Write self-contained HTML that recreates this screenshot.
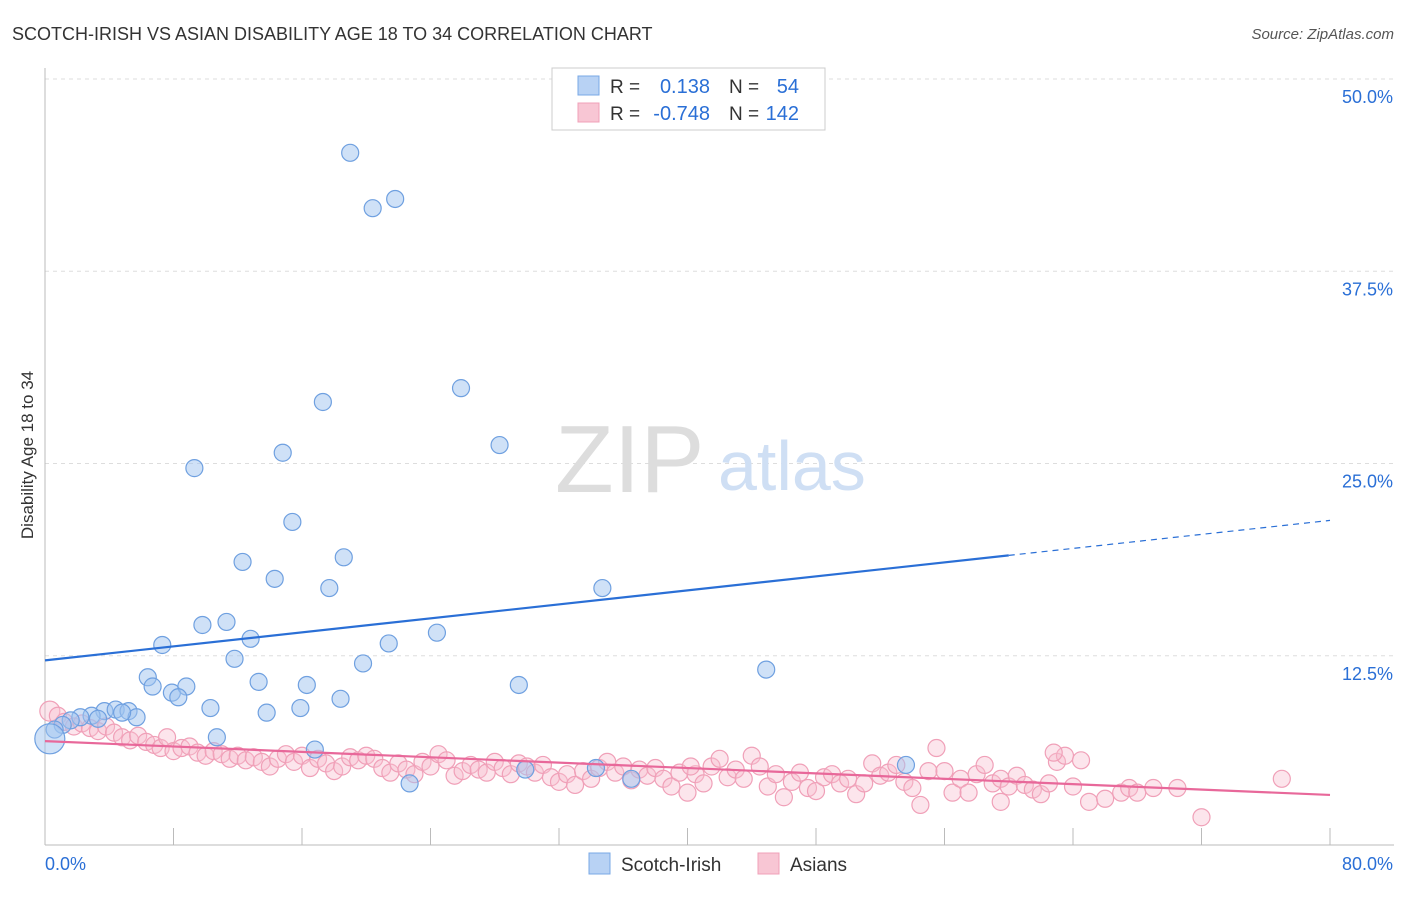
<!DOCTYPE html>
<html><head><meta charset="utf-8"><style>
body{margin:0;background:#fff;font-family:"Liberation Sans",sans-serif}
svg text{font-family:"Liberation Sans",sans-serif}
</style></head><body>
<svg id="chart" width="1406" height="892">
<text x="12" y="40" font-size="18" fill="#333">SCOTCH-IRISH VS ASIAN DISABILITY AGE 18 TO 34 CORRELATION CHART</text>
<text x="1394" y="39" font-size="15" fill="#555" font-style="italic" text-anchor="end">Source: ZipAtlas.com</text>
<text transform="translate(33,455) rotate(-90)" font-size="17" fill="#333" text-anchor="middle">Disability Age 18 to 34</text>
<g id="grid"></g>
<text x="555" y="492" font-size="96" fill="#ddd" font-family="Liberation Serif">ZIP</text>
<text x="718" y="490" font-size="70" fill="#cfdff4">atlas</text>
<g id="pts"></g>
<g id="trend"></g>
<g>
<rect x="552" y="68" width="273" height="62" fill="#fff" stroke="#ccc"/>
<rect x="578" y="76" width="21" height="19" fill="#b8d2f4" stroke="#78a8e6"/>
<rect x="578" y="103" width="21" height="19" fill="#f8c6d4" stroke="#f0a0b8"/>
<text x="610" y="93" font-size="19" fill="#333">R =</text><text x="710" y="93" font-size="20" fill="#2a6fd6" text-anchor="end">0.138</text>
<text x="729" y="93" font-size="19" fill="#333">N =</text><text x="799" y="93" font-size="20" fill="#2a6fd6" text-anchor="end">54</text>
<text x="610" y="120" font-size="19" fill="#333">R =</text><text x="710" y="120" font-size="20" fill="#2a6fd6" text-anchor="end">-0.748</text>
<text x="729" y="120" font-size="19" fill="#333">N =</text><text x="799" y="120" font-size="20" fill="#2a6fd6" text-anchor="end">142</text>
</g>
<g>
<rect x="589" y="853" width="21" height="21" fill="#b8d2f4" stroke="#78a8e6"/>
<text x="621" y="871" font-size="19" fill="#333">Scotch-Irish</text>
<rect x="758" y="853" width="21" height="21" fill="#f8c6d4" stroke="#f0a0b8"/>
<text x="790" y="871" font-size="19" fill="#333">Asians</text>
</g>
<text x="45" y="870" font-size="18" fill="#2a6fd6">0.0%</text>
<text x="1393" y="870" font-size="18" fill="#2a6fd6" text-anchor="end">80.0%</text>
</svg>
<script>
const yTicks=[12.5,25,37.5,50];
const yTickLabels=["12.5%","25.0%","37.5%","50.0%"];
const xTicks=[8,16,24,32,40,48,56,64,72,80];
const blueX=[19.0,20.4,21.8,25.9,17.3,28.3,9.3,14.8,15.4,12.3,18.6,14.3,17.7,34.7,7.3,9.8,11.3,12.8,11.8,21.4,24.4,19.8,44.9,6.4,6.7,7.9,8.8,8.3,13.3,16.3,29.5,10.3,13.8,15.9,18.4,10.7,3.7,4.4,5.2,5.7,4.8,2.9,2.2,1.6,1.1,0.6,0.3,16.8,29.9,34.3,36.5,22.7,53.6,3.3];
const blueY=[45.2,41.6,42.2,29.9,29.0,26.2,24.7,25.7,21.2,18.6,18.9,17.5,16.9,16.9,13.2,14.5,14.7,13.6,12.3,13.3,14.0,12.0,11.6,11.1,10.5,10.1,10.5,9.8,10.8,10.6,10.6,9.1,8.8,9.1,9.7,7.2,8.9,9.0,8.9,8.5,8.8,8.6,8.5,8.3,8.0,7.7,7.1,6.4,5.1,5.2,4.5,4.2,5.4,8.4];
const pinkX=[0.3,0.8,1.2,1.8,2.3,2.8,3.3,3.8,4.3,4.8,5.3,5.8,6.3,6.8,7.2,7.6,8.0,8.5,9.0,9.5,10.0,10.5,11.0,11.5,12.0,12.5,13.0,13.5,14.0,14.5,15.0,15.5,16.0,16.5,17.0,17.5,18.0,18.5,19.0,19.5,20.0,20.5,21.0,21.5,22.0,22.5,23.0,23.5,24.0,24.5,25.0,25.5,26.0,26.5,27.0,27.5,28.0,28.5,29.0,29.5,30.0,30.5,31.0,31.5,32.0,32.5,33.0,33.5,34.0,34.5,35.0,35.5,36.0,36.5,37.0,37.5,38.0,38.5,39.0,39.5,40.0,40.5,41.0,41.5,42.0,42.5,43.0,43.5,44.0,44.5,45.0,45.5,46.0,46.5,47.0,47.5,48.0,48.5,49.0,49.5,50.0,50.5,51.0,51.5,52.0,52.5,53.0,53.5,54.0,54.5,55.0,55.5,56.0,56.5,57.0,57.5,58.0,58.5,59.0,59.5,60.0,60.5,61.0,61.5,62.0,62.5,63.0,63.5,64.0,64.5,65.0,66.0,67.0,67.5,68.0,69.0,70.5,72.0,77.0,62.8,59.5,40.2];
const pinkY=[8.9,8.6,8.2,7.9,8.1,7.8,7.6,7.9,7.5,7.2,7.0,7.3,6.9,6.7,6.5,7.2,6.3,6.5,6.6,6.2,6.0,6.3,6.1,5.8,6.0,5.7,5.9,5.6,5.3,5.8,6.1,5.6,6.0,5.2,5.8,5.5,5.0,5.3,5.9,5.7,6.0,5.8,5.2,4.9,5.5,5.1,4.8,5.6,5.3,6.1,5.7,4.7,5.0,5.4,5.1,4.9,5.6,5.2,4.8,5.5,5.3,4.9,5.4,4.6,4.3,4.8,4.1,5.0,4.5,5.2,5.6,4.9,5.3,4.4,5.1,4.7,5.2,4.5,4.0,4.9,3.6,4.8,4.2,5.3,5.8,4.6,5.1,4.5,6.0,5.3,4.0,4.8,3.3,4.3,4.9,3.9,3.7,4.6,4.8,4.2,4.5,3.5,4.2,5.5,4.7,4.9,5.4,4.3,3.9,2.8,5.0,6.5,5.0,3.6,4.5,3.6,4.8,5.4,4.2,4.5,4.0,4.7,4.1,3.8,3.5,4.2,5.6,6.0,4.0,5.7,3.0,3.2,3.6,3.9,3.6,3.9,3.9,2.0,4.5,6.2,3.0,5.3];
const blueTrend=[12.2,21.3];
const pinkTrend=[6.95,3.45];
const X=v=>45+v*(1330-45)/80;
const Y=v=>848-v*(848-79)/50;
const NS="http://www.w3.org/2000/svg";
function mk(t,a,p){const e=document.createElementNS(NS,t);for(const k in a)e.setAttribute(k,a[k]);p.appendChild(e);return e;}
const grid=document.getElementById('grid');
yTicks.forEach((t,i)=>{
  const l=mk('line',{x1:45,x2:1394,y1:Y(t),y2:Y(t),stroke:'#ddd','stroke-dasharray':'4,4'},grid);
  
  
  const tx=mk('text',{x:1393,y:Y(t)+24,'font-size':18,fill:'#2a6fd6','text-anchor':'end'},grid);
  tx.textContent=yTickLabels[i];
  
  
});
const ax=mk('line',{x1:45,x2:45,y1:68,y2:845,stroke:'#bbb'},grid);


const bx=mk('line',{x1:45,x2:1394,y1:845,y2:845,stroke:'#bbb'},grid);


xTicks.forEach(t=>{
  const l=mk('line',{x1:X(t),x2:X(t),y1:828,y2:845,stroke:'#bbb'},grid);
  
  
});
const pts=document.getElementById('pts');
pinkX.forEach((x,i)=>{
  const c=mk('circle',{cx:X(x),cy:Y(pinkY[i]),r:i==0?10:8.5,fill:'rgba(248,190,208,0.4)',stroke:'#f0a0b8','stroke-width':1.2},pts);
  
  
});
blueX.forEach((x,i)=>{
  const c=mk('circle',{cx:X(x),cy:Y(blueY[i]),r:i==46?15:8.5,fill:'rgba(160,196,240,0.5)',stroke:'#6fa0e0','stroke-width':1.2},pts);
  
  
});
const tr=document.getElementById('trend');
const bAt=x=>blueTrend[0]+(blueTrend[1]-blueTrend[0])*x/80;
const b1=mk('line',{x1:X(0),y1:Y(bAt(0)),x2:X(60),y2:Y(bAt(60)),stroke:'#2a6fd6','stroke-width':2.2},tr);


const b2=mk('line',{x1:X(60),y1:Y(bAt(60)),x2:X(80),y2:Y(bAt(80)),stroke:'#2a6fd6','stroke-width':1.2,'stroke-dasharray':'6,5'},tr);


const p1=mk('line',{x1:X(0),y1:Y(pinkTrend[0]),x2:X(80),y2:Y(pinkTrend[1]),stroke:'#e8689a','stroke-width':2.2},tr);


</script>
</body></html>
